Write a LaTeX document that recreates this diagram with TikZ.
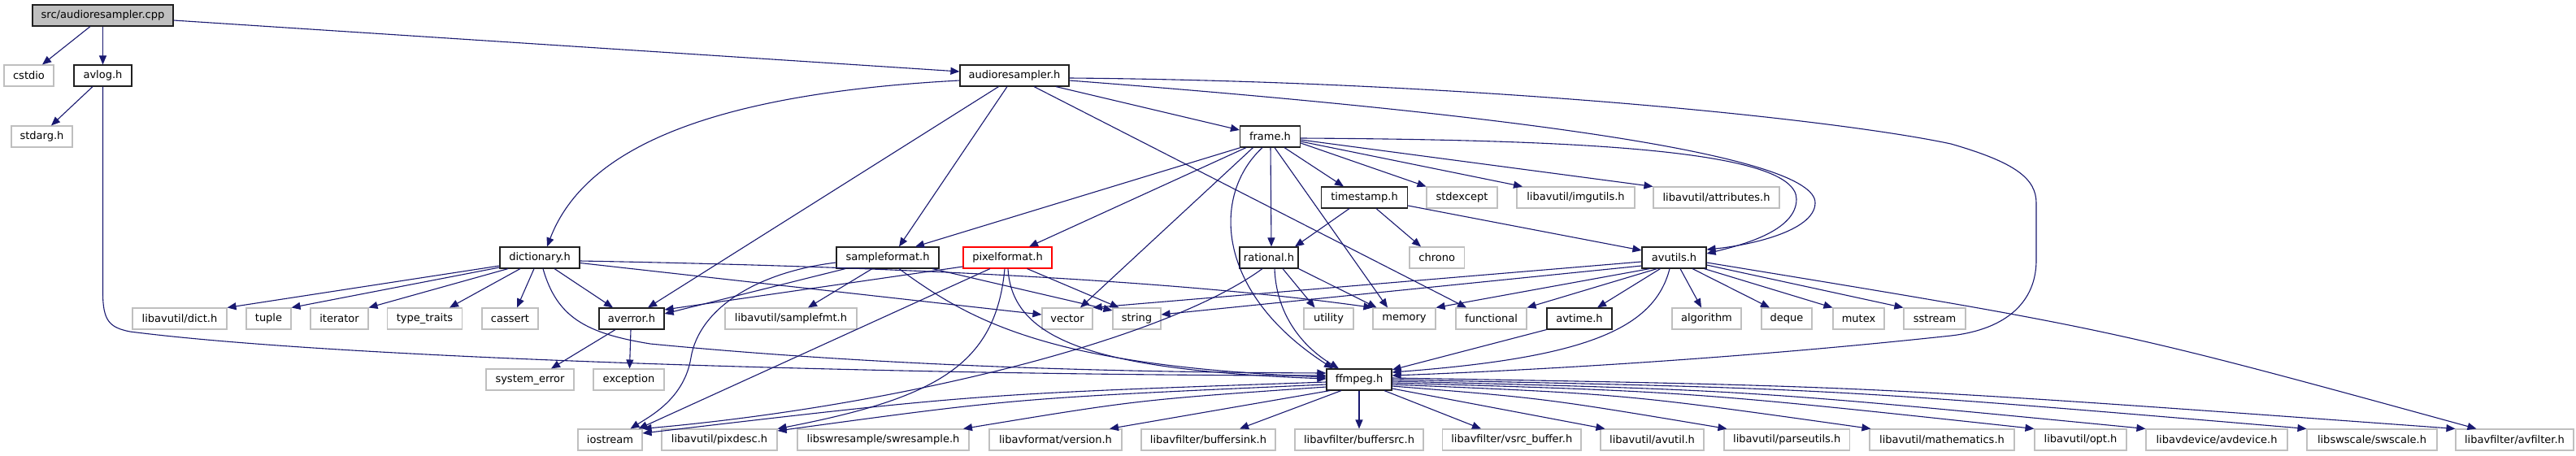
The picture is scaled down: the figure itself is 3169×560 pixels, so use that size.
\documentclass[tikz,border=0pt]{standalone}
\usepackage{fontspec}
\newfontfamily\dvs{DejaVu Sans}
\usetikzlibrary{arrows.meta}
\definecolor{edgec}{HTML}{191970}
\definecolor{gborder}{HTML}{BFBFBF}
\definecolor{rootgray}{HTML}{BFBFBF}
\definecolor{bborder}{HTML}{202020}
\tikzset{
  base/.style={draw, minimum height=26pt, inner sep=0pt, fill=white, line width=1.1pt,
    font={\dvs\fontsize{13pt}{15pt}\selectfont}},
  gbox/.style={base, draw=gborder},
  bbox/.style={base, draw=bborder, line width=1.15pt},
  rbox/.style={base, draw=red},
  rootbox/.style={base, draw=bborder, fill=rootgray, line width=1.15pt},
  edge/.style={draw=edgec, line width=1.1pt, -{Triangle[length=11pt,width=9pt]}},
}
\begin{document}
\begin{tikzpicture}[x=1pt,y=-1pt]
\fill[white] (0,0) rectangle (3169,560);
\useasboundingbox (0,0) rectangle (3169,560);
% row A
\node[rootbox, minimum width=173pt] (root) at (126.5,19) {src/audioresampler.cpp};
% row B
\node[gbox, minimum width=61pt] (cstdio) at (35.5,93) {cstdio};
\node[bbox, minimum width=71pt] (avlog) at (126.5,93) {avlog.h};
\node[bbox, minimum width=134pt] (ar) at (1248,93) {audioresampler.h};
% row C
\node[gbox, minimum width=75pt] (stdarg) at (51.5,168) {stdarg.h};
\node[bbox, minimum width=74pt] (frame) at (1562.5,168) {frame.h};
% row D
\node[bbox, minimum width=106pt] (timestamp) at (1678.5,243) {timestamp.h};
\node[gbox, minimum width=87pt] (stdexcept) at (1798.5,243) {stdexcept};
\node[gbox, minimum width=145pt] (imgutils) at (1938.5,243) {libavutil/imgutils.h};
\node[gbox, minimum width=155pt] (attributes) at (2111.5,243) {libavutil/attributes.h};
% row E
\node[bbox, minimum width=98pt] (dictionary) at (664,317) {dictionary.h};
\node[bbox, minimum width=126pt] (sampleformat) at (1092,317) {sampleformat.h};
\node[rbox, minimum width=109pt] (pixelformat) at (1239.5,317) {pixelformat.h};
\node[bbox, minimum width=72pt] (rational) at (1561,317) {rational.h};
\node[gbox, minimum width=67.5pt] (chrono) at (1767.75,317) {chrono};
\node[bbox, minimum width=79pt] (avutils) at (2059.5,317) {avutils.h};
% row F
\node[gbox, minimum width=116pt] (dictdoth) at (221,392) {libavutil/dict.h};
\node[gbox, minimum width=55pt] (tuple) at (330.5,392) {tuple};
\node[gbox, minimum width=71pt] (iterator) at (417.5,392) {iterator};
\node[gbox, minimum width=92pt] (typetraits) at (522.5,392) {type\_traits};
\node[gbox, minimum width=69pt] (cassert) at (627.5,392) {cassert};
\node[bbox, minimum width=80pt] (averror) at (777,392) {averror.h};
\node[gbox, minimum width=162pt] (samplefmt) at (973,392) {libavutil/samplefmt.h};
\node[gbox, minimum width=62pt] (vector) at (1313,392) {vector};
\node[gbox, minimum width=59pt] (string) at (1398.5,392) {string};
\node[gbox, minimum width=61pt] (utility) at (1634.5,392) {utility};
\node[gbox, minimum width=77pt] (memory) at (1727.5,392) {memory};
\node[gbox, minimum width=87pt] (functional) at (1834.5,392) {functional};
\node[bbox, minimum width=80pt] (avtime) at (1943,392) {avtime.h};
\node[gbox, minimum width=85pt] (algorithm) at (2099.5,392) {algorithm};
\node[gbox, minimum width=62pt] (deque) at (2198,392) {deque};
\node[gbox, minimum width=63pt] (mutex) at (2286.5,392) {mutex};
\node[gbox, minimum width=76pt] (sstream) at (2380,392) {sstream};
% row G
\node[gbox, minimum width=108pt] (systemerror) at (652,467) {system\_error};
\node[gbox, minimum width=87pt] (exception) at (773.5,467) {exception};
\node[bbox, minimum width=80pt] (ffmpeg) at (1672,467) {ffmpeg.h};
% row H
\node[gbox, minimum width=79pt] (iostream) at (750.5,541) {iostream};
\node[gbox, minimum width=142pt] (pixdesc) at (885,541) {libavutil/pixdesc.h};
\node[gbox, minimum width=211pt] (swresample) at (1086.5,541) {libswresample/swresample.h};
\node[gbox, minimum width=163pt] (version) at (1298.5,541) {libavformat/version.h};
\node[gbox, minimum width=165pt] (buffersink) at (1486.5,541) {libavfilter/buffersink.h};
\node[gbox, minimum width=158pt] (buffersrc) at (1672,541) {libavfilter/buffersrc.h};
\node[gbox, minimum width=170.5pt] (vsrcbuffer) at (1859.75,541) {libavfilter/vsrc\_buffer.h};
\node[gbox, minimum width=127pt] (avutil) at (2032.5,541) {libavutil/avutil.h};
\node[gbox, minimum width=154.5pt] (parseutils) at (2198.25,541) {libavutil/parseutils.h};
\node[gbox, minimum width=178pt] (mathematics) at (2389,541) {libavutil/mathematics.h};
\node[gbox, minimum width=113pt] (opt) at (2559.5,541) {libavutil/opt.h};
\node[gbox, minimum width=174pt] (avdevice) at (2727,541) {libavdevice/avdevice.h};
\node[gbox, minimum width=160pt] (swscale) at (2918,541) {libswscale/swscale.h};
\node[gbox, minimum width=145pt] (avfilter) at (3093.5,541) {libavfilter/avfilter.h};

% root
\draw[edge] ([xshift=-15.5pt]root.south) -- ([xshift=16.5pt]cstdio.north);
\draw[edge] (root) -- (avlog);
\draw[edge] ([yshift=-6pt]root.east) -- ([yshift=5pt]ar.west);
% avlog
\draw[edge] ([xshift=-12.5pt]avlog.south) -- ([xshift=11.5pt]stdarg.north);
\draw[edge] (avlog.south) -- (126.5,360) .. controls (126.5,395) and (135,403) .. (160,408) .. controls (450,445) and (1200,462) .. ([yshift=5pt]ffmpeg.west);
% audioresampler.h
\draw[edge] ([yshift=-6pt]ar.west) .. controls (880,115) and (720,180) .. ([xshift=9pt]dictionary.north);
\draw[edge] ([xshift=-19.5pt]ar.south) -- ([xshift=20pt]averror.north);
\draw[edge] ([xshift=-9pt]ar.south) -- ([xshift=14pt]sampleformat.north);
\draw[edge] ([xshift=51pt]ar.south) -- ([yshift=8pt]frame.west);
\draw[edge] ([xshift=24pt]ar.south) -- ([xshift=-30.5pt]functional.north);
\draw[edge] ([yshift=-6pt]ar.east) .. controls (1850,140) and (2235,190) .. (2233,250) .. controls (2232,285) and (2150,302) .. ([yshift=10pt]avutils.east);
\draw[edge] ([yshift=-3pt]ar.east) .. controls (1800,100) and (2250,145) .. (2400,177) .. controls (2480,200) and (2505,220) .. (2505,250) -- (2505,320) .. controls (2505,370) and (2470,405) .. (2400,413) .. controls (2150,440) and (1900,455) .. ([yshift=5pt]ffmpeg.east);
% frame.h
\draw[edge] ([xshift=-36.5pt]frame.south) -- ([xshift=34pt]sampleformat.north);
\draw[edge] ([xshift=-29.5pt]frame.south) -- ([xshift=26.5pt]pixelformat.north);
\draw[edge] ([xshift=-21pt]frame.south) -- ([xshift=16pt]vector.north);
\draw[edge] ([xshift=-9.5pt]frame.south) .. controls (1490,240) and (1495,360) .. ([xshift=-32pt]ffmpeg.north);
\draw[edge] ([xshift=0.5pt]frame.south) -- ([xshift=3pt]rational.north);
\draw[edge] ([xshift=5.5pt]frame.south) -- ([xshift=-20.5pt]memory.north);
\draw[edge] ([xshift=17.5pt]frame.south) -- ([xshift=-25.5pt]timestamp.north);
\draw[edge] ([yshift=-8pt]frame.east) -- (stdexcept.north west);
\draw[edge] ([yshift=-6pt]frame.east) -- ([xshift=-65.5pt]imgutils.north);
\draw[edge] ([yshift=-4pt]frame.east) -- (attributes.north west);
\draw[edge] ([yshift=-2pt]frame.east) .. controls (1950,172) and (2210,185) .. (2210,245) .. controls (2210,285) and (2140,302) .. ([yshift=5pt]avutils.east);
% timestamp.h
\draw[edge] ([xshift=-18.5pt]timestamp.south) -- ([xshift=32pt]rational.north);
\draw[edge] ([xshift=14.5pt]timestamp.south) -- ([xshift=-19.75pt]chrono.north);
\draw[edge] ([yshift=-10pt]timestamp.east) -- ([yshift=9pt]avutils.west);
% rational.h
\draw[edge] ([xshift=-8pt]rational.south) .. controls (1430,420) and (1100,500) .. (iostream.north east);
\draw[edge] ([xshift=7pt]rational.south) .. controls (1570,385) and (1600,425) .. ([xshift=-25pt]ffmpeg.north);
\draw[edge] ([xshift=17pt]rational.south) -- ([xshift=-17pt]utility.north);
\draw[edge] (rational.south east) -- ([xshift=-34pt]memory.north);
% dictionary.h
\draw[edge] ([yshift=-10pt]dictionary.west) -- (dictdoth.north east);
\draw[edge] ([yshift=-12pt]dictionary.west) -- (tuple.north east);
\draw[edge] ([xshift=-39pt]dictionary.south) -- (iterator.north east);
\draw[edge] ([xshift=-24pt]dictionary.south) -- ([xshift=30.5pt]typetraits.north);
\draw[edge] ([xshift=-7pt]dictionary.south) -- ([xshift=8.5pt]cassert.north);
\draw[edge] ([xshift=18pt]dictionary.south) -- ([xshift=-23pt]averror.north);
\draw[edge] ([xshift=4pt]dictionary.south) .. controls (685,390) and (720,410) .. (800,423) .. controls (1100,452) and (1400,458) .. ([yshift=8pt]ffmpeg.west);
\draw[edge] ([yshift=-4pt]dictionary.east) .. controls (1100,328) and (1450,345) .. (memory.north west);
\draw[edge] ([yshift=-6.5pt]dictionary.east) -- ([yshift=5pt]vector.west);
% averror.h
\draw[edge] ([xshift=-20pt]averror.south) -- ([xshift=26pt]systemerror.north);
\draw[edge] ([xshift=-1pt]averror.south) -- ([xshift=1pt]exception.north);
% sampleformat.h
\draw[edge] ([xshift=-52pt]sampleformat.south) -- ([yshift=6pt]averror.east);
\draw[edge] ([xshift=-19pt]sampleformat.south) -- ([xshift=21pt]samplefmt.north);
\draw[edge] ([yshift=-6pt]sampleformat.west) .. controls (930,335) and (860,380) .. (850,440) .. controls (842,490) and (800,512) .. ([xshift=25pt]iostream.north);
\draw[edge] ([xshift=55pt]sampleformat.south) -- ([yshift=10pt]string.west);
\draw[edge] ([xshift=14pt]sampleformat.south) .. controls (1200,400) and (1300,450) .. ([yshift=3pt]ffmpeg.west);
% pixelformat.h
\draw[edge] ([yshift=-11pt]pixelformat.west) -- ([yshift=11pt]averror.east);
\draw[edge] ([xshift=-21.5pt]pixelformat.south) -- ([xshift=35pt]iostream.north);
\draw[edge] ([xshift=-3.5pt]pixelformat.south) .. controls (1225,450) and (1150,490) .. (pixdesc.north east);
\draw[edge] ([xshift=0.5pt]pixelformat.south) .. controls (1245,420) and (1350,455) .. ([yshift=1pt]ffmpeg.west);
\draw[edge] ([xshift=24pt]pixelformat.south) -- ([xshift=-22pt]string.north);
% avutils.h
\draw[edge] ([yshift=-5pt]avutils.west) -- (vector.north east);
\draw[edge] ([yshift=-10pt]avutils.west) -- ([yshift=5pt]string.east);
\draw[edge] ([xshift=-30pt]avutils.south) -- (memory.north east);
\draw[edge] ([xshift=-21pt]avutils.south) -- (functional.north east);
\draw[edge] ([xshift=-17pt]avutils.south) -- ([xshift=22pt]avtime.north);
\draw[edge] ([xshift=-5.5pt]avutils.south) .. controls (2035,405) and (1950,440) .. ([yshift=9pt]ffmpeg.east);
\draw[edge] ([xshift=7.5pt]avutils.south) -- ([xshift=-6.5pt]algorithm.north);
\draw[edge] ([xshift=22.5pt]avutils.south) -- ([xshift=-21pt]deque.north);
\draw[edge] ([xshift=37pt]avutils.south) -- (mutex.north west);
\draw[edge] ([yshift=-9pt]avutils.east) -- (sstream.north west);
\draw[edge] ([yshift=-6pt]avutils.east) .. controls (2600,405) .. ([xshift=-47pt]avfilter.north);
% avtime.h
\draw[edge] (avtime.south west) -- ([yshift=12pt]ffmpeg.east);
% ffmpeg.h
\draw[edge] ([yshift=-3pt]ffmpeg.west) .. controls (1200,485) .. ([yshift=8pt]iostream.east);
\draw[edge] ([yshift=-6pt]ffmpeg.west) .. controls (1250,490) .. ([yshift=11pt]pixdesc.east);
\draw[edge] ([yshift=-9pt]ffmpeg.west) .. controls (1400,492) .. ([xshift=98.5pt]swresample.north);
\draw[edge] ([xshift=-36pt]ffmpeg.south) -- ([xshift=66.5pt]version.north);
\draw[edge] ([xshift=-22pt]ffmpeg.south) -- ([xshift=38.5pt]buffersink.north);
\draw[edge] (ffmpeg) -- (buffersrc);
\draw[edge] ([xshift=31pt]ffmpeg.south) -- ([xshift=-37.75pt]vsrcbuffer.north);
\draw[edge] ([yshift=-11pt]ffmpeg.east) -- ([xshift=6pt]avutil.north west);
\draw[edge] ([yshift=-8pt]ffmpeg.east) .. controls (1900,490) .. ([xshift=4pt]parseutils.north west);
\draw[edge] ([yshift=-6pt]ffmpeg.east) .. controls (2000,485) .. ([xshift=2pt]mathematics.north west);
\draw[edge] ([yshift=-4pt]ffmpeg.east) .. controls (2080,482) .. (opt.north west);
\draw[edge] ([yshift=-2pt]ffmpeg.east) .. controls (2150,480) .. (avdevice.north west);
\draw[edge] (ffmpeg.east) .. controls (2250,478) .. (swscale.north west);
\draw[edge] ([yshift=2pt]ffmpeg.east) .. controls (2300,475) .. (avfilter.north west);
\end{tikzpicture}
\end{document}
